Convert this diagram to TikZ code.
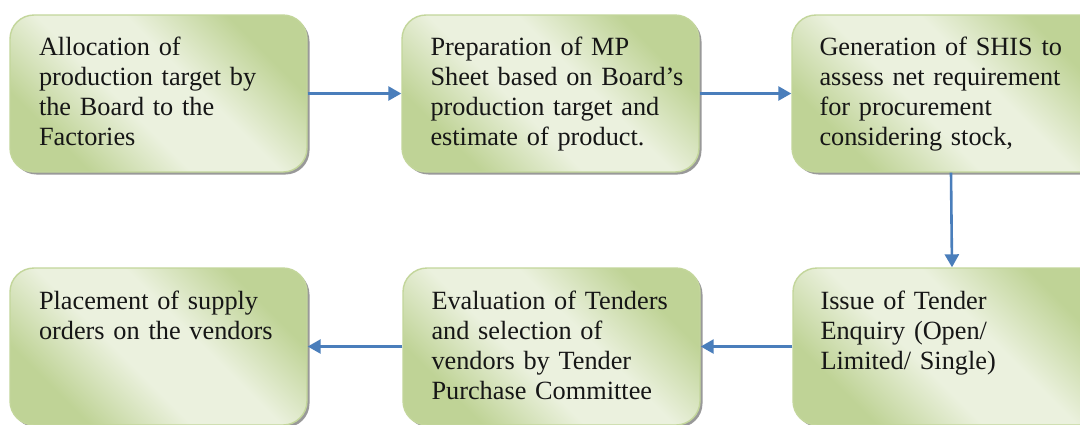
\documentclass[tikz,border=0pt]{standalone}
\usepackage{fontspec}
\setmainfont{Liberation Serif}
\usetikzlibrary{arrows.meta}
\definecolor{boxdark}{HTML}{BFD396}
\definecolor{boxlight}{HTML}{EBF1DE}
\definecolor{boxedge}{HTML}{C3D69B}
\definecolor{flowblue}{HTML}{4A7EBB}
\definecolor{inktext}{HTML}{161616}
% diagonal fill: green corners, wide pale band through the middle
\pgfdeclarehorizontalshading{boxshade}{100bp}{%
  color(0bp)=(boxdark); color(27bp)=(boxdark); color(43bp)=(boxlight);
  color(57bp)=(boxlight); color(73bp)=(boxdark); color(100bp)=(boxdark)}
\tikzset{
  stepbox/.style={
    rectangle, rounded corners=24pt, inner sep=0pt,
    minimum width=297pt, minimum height=157pt,
    draw=boxedge, line width=1.4pt,
    shading=boxshade, shading angle=45
  },
  widebox/.style={stepbox, minimum width=318pt},
  shadowbox/.style={
    rectangle, rounded corners=24pt, inner sep=0pt,
    minimum width=297pt, minimum height=157pt,
    fill=black!40
  },
  widershadow/.style={shadowbox, minimum width=318pt},
  steptext/.style={
    anchor=base west, inner sep=0pt, text width=270pt, align=left,
    text=inktext, font=\fontsize{26.3}{30}\selectfont
  },
  flow/.style={
    draw=flowblue, line width=2.6pt,
    -{Triangle[length=13pt,width=14pt]}
  }
}
\begin{document}
\begin{tikzpicture}[x=1pt,y=-1pt]
  \clip (0,0) rectangle (1080,424);
  \fill[white] (0,0) rectangle (1080,424);

  % drop shadows under the boxes
  \node[shadowbox]   (s1) at (161,96)  {};
  \node[shadowbox]   (s2) at (553,96)  {};
  \node[widershadow] (s3) at (953.5,96)  {};
  \node[shadowbox]   (s4) at (161,349) {};
  \node[shadowbox]   (s5) at (554,349) {};
  \node[widershadow] (s6) at (954.5,349) {};

  % process boxes
  \node[stepbox]  (b1) at (158.5,93.5)  {};
  \node[stepbox]  (b2) at (550.5,93.5)  {};
  \node[widebox]  (b3) at (951.0,93.5)  {};
  \node[stepbox]  (b4) at (158.5,346.5) {};
  \node[stepbox]  (b5) at (551.5,346.5) {};
  \node[widebox]  (b6) at (952.0,346.5) {};

  % box texts
  \node[steptext] (t1) at ([xshift=29.5pt,yshift=-41pt]b1.north west)
    {Allocation of\\production target by\\the Board to the\\Factories};
  \node[steptext] (t2) at ([xshift=29pt,yshift=-41pt]b2.north west)
    {Preparation of MP\\Sheet based on Board’s\\production target and\\estimate of product.};
  \node[steptext] (t3) at ([xshift=28pt,yshift=-41pt]b3.north west)
    {Generation of SHIS to\\assess net requirement\\for procurement\\considering stock,};
  \node[steptext] (t4) at ([xshift=29.5pt,yshift=-42pt]b4.north west)
    {Placement of supply\\orders on the vendors};
  \node[steptext] (t5) at ([xshift=29pt,yshift=-42pt]b5.north west)
    {Evaluation of Tenders\\and selection of\\vendors by Tender\\Purchase Committee};
  \node[steptext] (t6) at ([xshift=28pt,yshift=-42pt]b6.north west)
    {Issue of Tender\\Enquiry (Open/\\Limited/ Single)};

  % flow connectors
  \draw[flow] (b1.east) -- (b2.west);
  \draw[flow] (b2.east) -- (b3.west);
  \draw[flow] (b3.south) -- (b6.north);
  \draw[flow] (b6.west) -- (b5.east);
  \draw[flow] (b5.west) -- (b4.east);
\end{tikzpicture}
\end{document}
